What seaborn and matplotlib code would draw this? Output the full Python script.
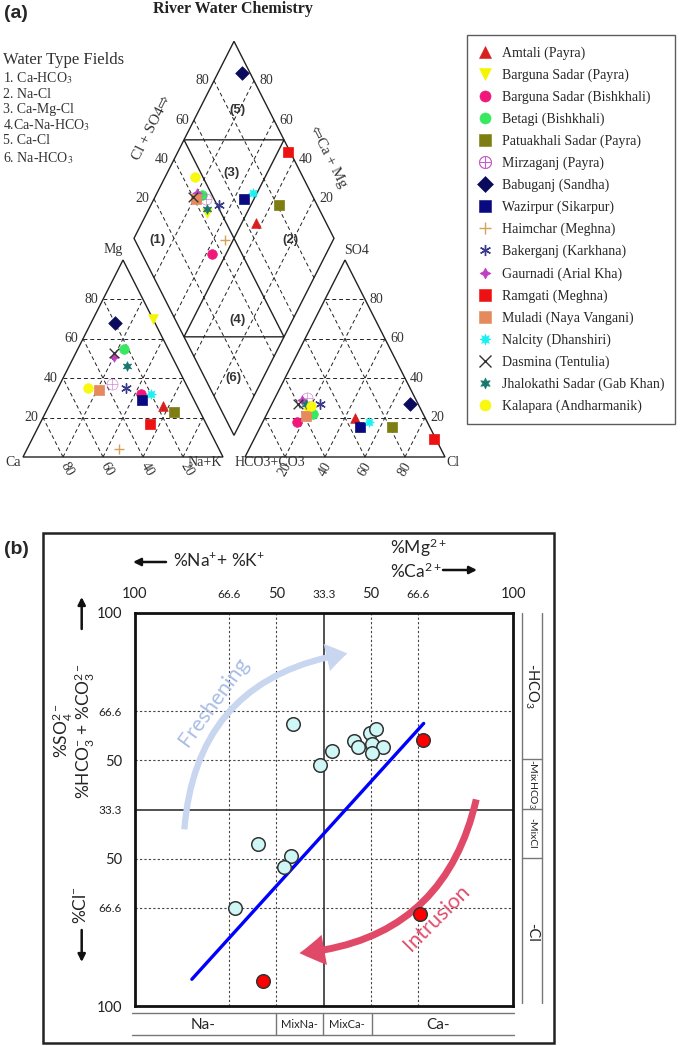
import numpy as np
import pandas as pd
import matplotlib
matplotlib.use("Agg")
import matplotlib.pyplot as plt
import seaborn as sns
from matplotlib.lines import Line2D
from matplotlib.patches import FancyArrowPatch, Rectangle, Polygon

W, H = 685, 1046

# (a) PIPER DATA - meq % of major ions per sampling site
sites = ["Amtali (Payra)", "Barguna Sadar (Payra)", "Barguna Sadar (Bishkhali)",
         "Betagi (Bishkhali)", "Patuakhali Sadar (Payra)", "Mirzaganj (Payra)",
         "Babuganj (Sandha)", "Wazirpur (Sikarpur)", "Haimchar (Meghna)",
         "Bakerganj (Karkhana)", "Gaurnadi (Arial Kha)", "Ramgati (Meghna)",
         "Muladi (Naya Vangani)", "Nalcity (Dhanshiri)", "Dasmina (Tentulia)",
         "Jhalokathi Sadar (Gab Khan)", "Kalapara (Andharmanik)"]
ca   = [17, 0, 25, 22, 13, 37, 20, 26, 50, 31, 29, 28, 45, 20, 28, 25, 50]
mg   = [26, 70, 32, 55, 23, 37, 68, 29, 4, 35, 51, 17, 34, 32, 53, 46, 35]
na_k = [57, 30, 43, 23, 64, 26, 12, 45, 46, 34, 20, 55, 21, 48, 19, 29, 15]
hco3 = [35, 57, 65, 55, 19, 54, 4, 35, 55, 49, 57, 1, 59, 29, 60, 56, 54]
so4  = [20, 23, 18, 22, 15, 30, 27, 15, 26, 27, 29, 9, 21, 18, 27, 27, 26]
cl   = [45, 20, 17, 23, 66, 16, 69, 50, 19, 24, 14, 90, 20, 53, 13, 17, 20]

field_types = ["1. Ca-HCO$_3$", "2. Na-Cl", "3. Ca-Mg-Cl", "4.Ca-Na-HCO$_3$",
               "5. Ca-Cl", "6. Na-HCO$_3$"]

# (b) CHADHA DATA
fresh_x = [-16.0, 4.3, -1.9, 16.1, 17.9, 24.2, 27.8, 25.5, 31.1, 25.5,
           -34.7, -17.2, -20.9, -46.8]
fresh_y = [43.4, 29.8, 22.7, 34.8, 31.9, 39.0, 41.0, 33.2, 31.6, 28.8,
           -17.7, -23.8, -29.2, -50.1]
saline_x = [52.5, 51.1, -32.2]
saline_y = [35.3, -53.2, -87.2]
trend_x = [-69.7, 52.8]
trend_y = [-86.4, 43.8]
tick_pos = [-100, -50, -25, 0, 25, 50, 100]
tick_lab = ["100", "66.6", "50", "33.3", "50", "66.6", "100"]

# styles
site_color = ["#d91e1e", "#f5f500", "#f0167a", "#38e860", "#7d7d12", "#c85cc8",
              "#0b0b5e", "#0a0a80", "#d4a25a", "#3a3a8c", "#c040c0", "#ee1111",
              "#e58a5c", "#19f0f0", "#333333", "#187870", "#f8f810"]
site_marker = ["^", "v", "o", "o", "s", "$\\oplus$", "D", "s", "+", (6, 2, 0),
               (4, 1, 0), "s", "s", (8, 1, 0), "x", (6, 1, 0), "o"]

sns.set_style("white")
plt.rcParams["font.family"] = ["Lato", "DejaVu Sans"]
plt.rcParams["mathtext.fontset"] = "custom"
plt.rcParams["mathtext.rm"] = "Lato"
plt.rcParams["mathtext.it"] = "Lato:italic"
plt.rcParams["mathtext.bf"] = "Lato:bold"
SERIF = ["Liberation Serif", "DejaVu Sans"]

fig = plt.figure(figsize=(W / 100, H / 100), dpi=100)


def ftext(px, py, s, **kw):
    return fig.text(px / W, 1 - py / H, s, **kw)


def fline(xs, ys, **kw):
    fig.add_artist(Line2D([x / W for x in xs], [1 - y / H for y in ys],
                          transform=fig.transFigure, **kw))


# ---------------- (a) Piper ----------------
G = 0.11
X0, Y0, SX, SY = 23, 457, 200, 197
ax = fig.add_axes([0, 1 - 480 / H, 1, 480 / H])
ax.set_xlim(-X0 / SX, (W - X0) / SX)
ax.set_ylim((Y0 - 480) / SY, Y0 / SY)
ax.axis("off")


def cat_uv(c, m, n):
    return n + m / 2, m


def an_uv(h, s, c):
    return 1 + G + c + s / 2, s


def dia_uv(a, b):
    return 0.5 + G / 2 + (a + b) / 2, 1 + G + b - a


def to_px(u, v):
    return X0 + SX * u, Y0 - SY * v


def seg(p, q, **kw):
    ax.plot([p[0], q[0]], [p[1], q[1]], **kw)


dash = dict(color="#222", lw=0.7, ls=(0, (4, 3)))
for f in (0.2, 0.4, 0.6, 0.8):
    seg(cat_uv(1 - f, f, 0), cat_uv(0, f, 1 - f), **dash)
    seg(cat_uv(f, 0, 1 - f), cat_uv(f, 1 - f, 0), **dash)
    seg(cat_uv(1 - f, 0, f), cat_uv(0, 1 - f, f), **dash)
    seg(an_uv(1 - f, f, 0), an_uv(0, f, 1 - f), **dash)
    seg(an_uv(f, 0, 1 - f), an_uv(f, 1 - f, 0), **dash)
    seg(an_uv(1 - f, 0, f), an_uv(0, 1 - f, f), **dash)
    seg(dia_uv(f, 0), dia_uv(f, 1), **dash)
    seg(dia_uv(0, f), dia_uv(1, f), **dash)

for pts in ([cat_uv(1, 0, 0), cat_uv(0, 0, 1), cat_uv(0, 1, 0)],
            [an_uv(1, 0, 0), an_uv(0, 0, 1), an_uv(0, 1, 0)],
            [dia_uv(0, 0), dia_uv(1, 0), dia_uv(1, 1), dia_uv(0, 1)],
            [dia_uv(0, 0.5), dia_uv(0.5, 1), dia_uv(0.5, 0.5)],
            [dia_uv(0.5, 0), dia_uv(1, 0.5), dia_uv(0.5, 0.5)]):
    ax.add_patch(Polygon(pts, closed=True, fill=False, ec="#222", lw=1.0))

df = pd.DataFrame(dict(site=sites, ca=ca, mg=mg, na_k=na_k,
                       hco3=hco3, so4=so4, cl=cl))
for i, r in df.iterrows():
    p1 = cat_uv(r.ca / 100, r.mg / 100, r.na_k / 100)
    p2 = an_uv(r.hco3 / 100, r.so4 / 100, r.cl / 100)
    p3 = dia_uv(r.na_k / 100, (r.so4 + r.cl) / 100)
    m = site_marker[i]
    c = site_color[i]
    line_art = m in ("+", "x") or m == (6, 2, 0)
    kw = dict(marker=m, color=c, s=48, zorder=5, ax=ax, legend=False)
    if line_art:
        kw.update(edgecolor=c, linewidth=1.0)
    elif isinstance(m, str) and m.startswith("$"):
        kw.update(edgecolor=c, linewidth=0, s=70)
    else:
        kw.update(edgecolor=c, linewidth=0.5)
    sns.scatterplot(x=[p1[0], p2[0], p3[0]], y=[p1[1], p2[1], p3[1]], **kw)

lab = dict(family=SERIF, fontsize=10, color="#333")
for k in (20, 40, 60, 80):
    f = k / 100
    x, y = to_px(*cat_uv(1 - f, f, 0))
    ftext(x - 5, y, str(k), ha="right", va="center", **lab)
    x, y = to_px(*an_uv(0, f, 1 - f))
    ftext(x + 5, y, str(k), ha="left", va="center", **lab)
    x, y = to_px(*cat_uv(f, 0, 1 - f))
    ftext(x + 4, y + 12, str(k), ha="center", va="center", rotation=-60, **lab)
    x, y = to_px(*an_uv(1 - f, 0, f))
    ftext(x, y + 12, str(k), ha="center", va="center", rotation=60, **lab)
    x, y = to_px(*dia_uv(0, f))
    ftext(x - 5, y, str(k), ha="right", va="center", **lab)
    x, y = to_px(*dia_uv(1 - f, 1))
    ftext(x + 5, y, str(k), ha="left", va="center", **lab)

for s, px, py in (("Ca", 13, 462), ("Na+K", 205, 462), ("Mg", 113, 250),
                  ("HCO3+CO3", 270, 462), ("Cl", 453, 462), ("SO4", 357, 250)):
    ftext(px, py, s, ha="center", va="center", **lab)
ftext(152, 128, "Cl + SO4\u21e8", ha="center", va="center", rotation=63,
      family=SERIF, fontsize=11, color="#333")
ftext(328, 157, "\u21e6Ca + Mg", ha="center", va="center", rotation=-63,
      family=SERIF, fontsize=11, color="#333")

for s, px, py in (("(5)", 237, 110), ("(3)", 232, 173), ("(1)", 157, 240),
                  ("(2)", 290, 240), ("(4)", 237, 320), ("(6)", 233, 378)):
    ftext(px, py, s, ha="center", va="center", family="Liberation Sans",
          fontweight="bold", fontsize=9.5, color="#333")

ftext(4, 13, "(a)", ha="left", va="center", family="Liberation Sans",
      fontweight="bold", fontsize=14)
ftext(233, 9, "River Water Chemistry", ha="center", va="center", family=SERIF,
      fontweight="bold", fontsize=11.5, color="#222")
ftext(3, 60, "Water Type Fields", ha="left", va="center", family=SERIF,
      fontsize=12, color="#333")
for s, py in zip(field_types, (78, 94, 109, 125, 141, 158)):
    ftext(3, py, s, ha="left", va="center", family=SERIF, fontsize=10,
          color="#333", math_fontfamily="stix")

handles = [Line2D([], [], ls="", marker=m, color=c, markeredgecolor=c,
                  markersize=8 if not str(m).startswith("$") else 9,
                  markeredgewidth=1.0 if m in ("+", "x") or m == (6, 2, 0) else 0.4)
           for m, c in zip(site_marker, site_color)]
leg = ax.legend(handles, sites, loc="upper left", bbox_to_anchor=(467 / W, 1 - 35 / H),
                bbox_transform=fig.transFigure, borderaxespad=0, frameon=True,
                fancybox=False, edgecolor="#333", prop={"family": SERIF, "size": 10},
                labelspacing=0.62, handletextpad=0.7, handlelength=1.0, borderpad=0.8)
leg.get_frame().set_linewidth(1.0)

# ---------------- (b) Chadha ----------------
bx0, bx1, by0, by1 = 134.5, 513, 613, 1006
axb = fig.add_axes([bx0 / W, 1 - by1 / H, (bx1 - bx0) / W, (by1 - by0) / H])
axb.set_xlim(-100, 100)
axb.set_ylim(-100, 100)
for v in (-50, -25, 25, 50):
    axb.axvline(v, color="#444", lw=0.8, ls=(0, (2, 2)), zorder=1)
    axb.axhline(v, color="#444", lw=0.8, ls=(0, (2, 2)), zorder=1)
axb.axvline(0, color="#222", lw=1.1, zorder=1)
axb.axhline(0, color="#222", lw=1.1, zorder=1)
for sp in axb.spines.values():
    sp.set_linewidth(2.0)
    sp.set_color("#111")

axb.xaxis.tick_top()
axb.set_xticks(tick_pos)
axb.set_xticklabels(tick_lab)
axb.set_yticks(tick_pos)
axb.set_yticklabels(tick_lab)
axb.tick_params(length=0, pad=9, colors="#222")
for t in axb.get_xticklabels() + axb.get_yticklabels():
    t.set_fontsize(8.5 if "." in t.get_text() else 10.5)
axb.set_xlabel("")
axb.set_ylabel("")

sns.lineplot(x=trend_x, y=trend_y, ax=axb, color="#0000ff", lw=2.4, zorder=3)
sns.scatterplot(x=fresh_x, y=fresh_y, ax=axb, s=95, color="#cff7f5",
                edgecolor="#333", linewidth=1.1, zorder=4, legend=False)
sns.scatterplot(x=saline_x, y=saline_y, ax=axb, s=95, color="#ff0000",
                edgecolor="#333", linewidth=1.1, zorder=4, legend=False)

axb.add_patch(FancyArrowPatch((-73.8, -11.5), (13.9, 79.6),
                              connectionstyle="arc3,rad=-0.40",
                              arrowstyle="simple,head_length=1.5,head_width=2.0,tail_width=0.45",
                              mutation_scale=10, color="#c8d6f0", lw=0,
                              zorder=2, clip_on=False))
axb.add_patch(FancyArrowPatch((80.9, 6.5), (-14.3, -73.2),
                              connectionstyle="arc3,rad=-0.37",
                              arrowstyle="simple,head_length=1.8,head_width=2.2,tail_width=0.5",
                              mutation_scale=10, color="#e04a68", lw=0,
                              zorder=2, clip_on=False))
ftext(214, 702, "Freshening", rotation=54, color="#a9bde6", fontsize=15.5,
      ha="center", va="center", rotation_mode="anchor")
ftext(437, 918, "Intrusion", rotation=45, color="#e0506e", fontsize=15.5,
      ha="center", va="center", rotation_mode="anchor")

# frame, side and bottom classification strips
fig.add_artist(Rectangle((43.3 / W, 1 - 1042.7 / H), (554 - 43.3) / W,
                         (1042.7 - 532.7) / H, transform=fig.transFigure,
                         fill=False, lw=1.8, ec="#222"))
gray = dict(color="#777", lw=1.0)
fline([521.7, 521.7], [613, 1003], **gray)
fline([542.3, 542.3], [613, 1003], **gray)
for yy in (759, 809, 858):
    fline([521.7, 542.3], [yy, yy], **gray)
fline([132, 514], [1013.3, 1013.3], **gray)
fline([132, 514], [1035, 1035], **gray)
for xx in (275.7, 323.3, 371.7):
    fline([xx, xx], [1013.3, 1035], **gray)

side = dict(ha="center", va="center", rotation=-90, color="#222")
ftext(532, 686, "-HCO$_3$", fontsize=10.5, **side)
ftext(532, 784, "-MixHCO$_3$", fontsize=7.5, **side)
ftext(532, 833, "-MixCl", fontsize=7.5, **side)
ftext(532, 932, "-Cl", fontsize=10.5, **side)
bot = dict(ha="center", va="center", color="#222")
ftext(203, 1025, "Na-", fontsize=11, **bot)
ftext(299, 1024, "MixNa-", fontsize=8, **bot)
ftext(347, 1024, "MixCa-", fontsize=8, **bot)
ftext(438, 1025, "Ca-", fontsize=11, **bot)

ftext(4, 549, "(b)", ha="left", va="center", family="Liberation Sans",
      fontweight="bold", fontsize=14)
ftext(173, 560, r"%Na$^{+}$+ %K$^{+}$", ha="left", va="center", fontsize=12.5)
ftext(390, 548, r"%Mg$^{2+}$", ha="left", va="center", fontsize=12.5)
ftext(390, 571, r"%Ca$^{2+}$", ha="left", va="center", fontsize=12.5)
ftext(63, 731, r"%SO$_4^{2-}$", ha="center", va="center", rotation=90, fontsize=12.5)
ftext(85, 731, r"%HCO$_3^{-}$ + %CO$_3^{2-}$", ha="center", va="center",
      rotation=90, fontsize=12.5)
ftext(81, 905, r"%Cl$^{-}$", ha="center", va="center", rotation=90, fontsize=12.5)


def farrow(p, q):
    fig.add_artist(FancyArrowPatch((p[0] / W, 1 - p[1] / H), (q[0] / W, 1 - q[1] / H),
                                   transform=fig.transFigure, arrowstyle="-|>",
                                   mutation_scale=11, lw=1.8, color="#111",
                                   shrinkA=0, shrinkB=0))


farrow((166, 562), (133, 562))
farrow((443, 570), (477, 570))
farrow((81.7, 629), (81.7, 597))
farrow((81.7, 930), (81.7, 962))

fig.savefig("out.png", dpi=100)
